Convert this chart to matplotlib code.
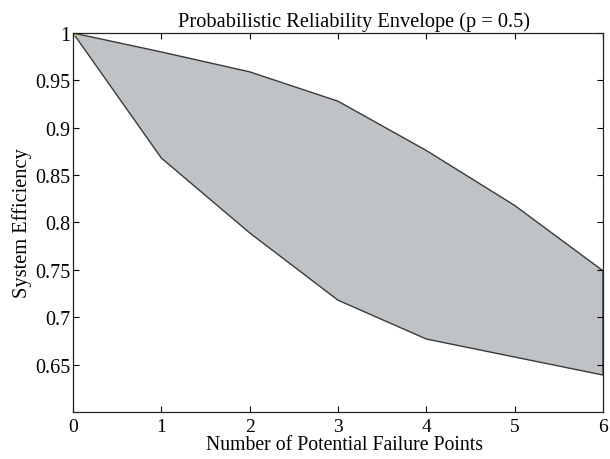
import matplotlib
matplotlib.use('Agg')
import matplotlib.pyplot as plt

# data
failure_points = [0, 1, 2, 3, 4, 5, 6]
upper_efficiency = [1.0, 0.980, 0.959, 0.928, 0.876, 0.818, 0.749]
lower_efficiency = [1.0, 0.868, 0.789, 0.718, 0.677, 0.658, 0.639]
y_ticks = [0.65, 0.7, 0.75, 0.8, 0.85, 0.9, 0.95, 1.0]
y_tick_labels = ['0.65', '0.7', '0.75', '0.8', '0.85', '0.9', '0.95', '1']

plt.rcParams['font.family'] = ['Liberation Serif', 'DejaVu Serif']
plt.rcParams['font.size'] = 14

fig = plt.figure(figsize=(6.1, 4.6), dpi=100)
ax = fig.add_axes([0.1197, 0.1022, 0.8688, 0.8239])

# envelope polygon: upper curve out, lower curve back
xs = failure_points + failure_points[::-1]
ys = upper_efficiency + lower_efficiency[::-1]
ax.fill(xs, ys, facecolor='#c0c3c6', edgecolor='#3a3a3a', linewidth=1.0)
ax.plot([failure_points[0]], [upper_efficiency[0]], 's', color='#b5b800', markersize=2.5)

ax.set_xlim(0, 6)
ax.set_ylim(0.6, 1.0)
ax.set_xticks(failure_points)
ax.set_yticks(y_ticks)
ax.set_yticklabels(y_tick_labels)
ax.tick_params(direction='in', top=True, right=True, length=4, width=0.8, labelsize=14.5)
ax.tick_params(axis='y', pad=2)
ax.tick_params(axis='x', pad=4, labelsize=14)
for spine in ax.spines.values():
    spine.set_linewidth(0.9)
    spine.set_color('#222222')

ax.set_title('Probabilistic Reliability Envelope (p = 0.5)', fontsize=14.7, pad=5, x=0.53)
ax.set_xlabel('Number of Potential Failure Points', fontsize=14.2, labelpad=0.5, x=0.513)
ax.set_ylabel('System Efficiency', fontsize=14.7, labelpad=2)

fig.savefig('out.png', dpi=100)
